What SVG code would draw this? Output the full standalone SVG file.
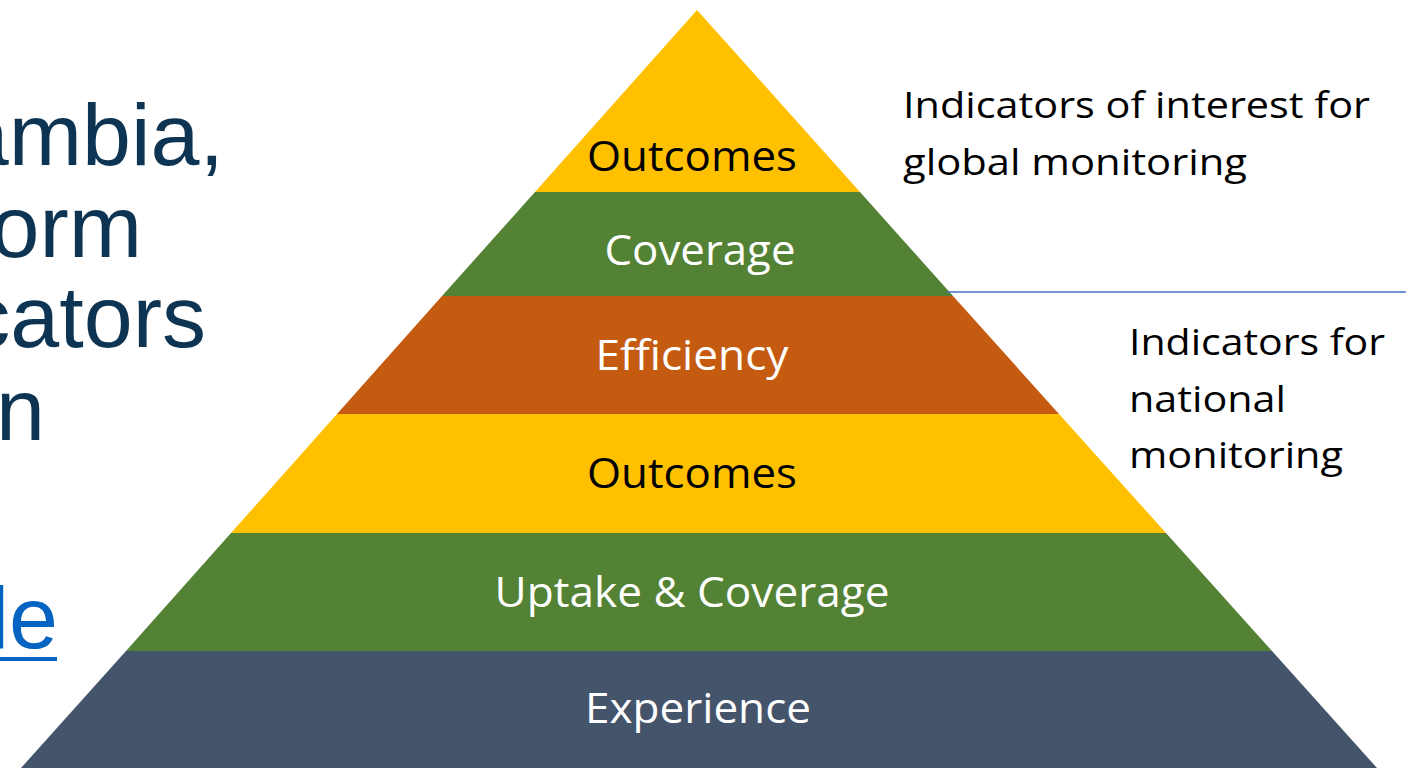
<svg xmlns="http://www.w3.org/2000/svg" width="1406" height="768" viewBox="0 0 1406 768">
<style>
.lbl{font-family:"Open Sans","Noto Sans",sans-serif;font-size:42px;text-anchor:middle;lengthAdjust:spacingAndGlyphs}
.dark{fill:#000}
.light{fill:#fff}
.side{font-family:"Open Sans","Noto Sans",sans-serif;font-size:36px;fill:#000}
.slide{font-family:"Liberation Sans",Arial,sans-serif;font-size:88px;fill:#0D3553;text-anchor:end}
</style>
<rect width="1406" height="768" fill="#fff"/>
<g id="slide-text">
<text class="slide" x="224" y="165">ambia,</text>
<text class="slide" x="142" y="257">orm</text>
<text class="slide" x="206" y="347">cators</text>
<text class="slide" x="45" y="440">n</text>
<text class="slide" x="58" y="648" style="fill:#0563C1">le</text>
<rect x="0" y="657" width="57" height="4" fill="#0563C1"/>
</g>
<g id="layer-outcomes-top">
<polygon points="697,10 860,192 535,192" fill="#FFC000"/>
<text class="lbl dark" x="692" y="171" textLength="210" lengthAdjust="spacingAndGlyphs">Outcomes</text>
</g>
<g id="layer-coverage">
<polygon points="535,192 860,192 953,296 442,296" fill="#548235"/>
<text class="lbl light" x="700" y="265" textLength="191" lengthAdjust="spacingAndGlyphs">Coverage</text>
</g>
<g id="layer-efficiency">
<polygon points="442,296 953,296 1059,414 337,414" fill="#C55A11"/>
<text class="lbl light" x="692" y="370" textLength="193" lengthAdjust="spacingAndGlyphs">Efficiency</text>
</g>
<g id="layer-outcomes">
<polygon points="337,414 1059,414 1166,533 231,533" fill="#FFC000"/>
<text class="lbl dark" x="692" y="488" textLength="210" lengthAdjust="spacingAndGlyphs">Outcomes</text>
</g>
<g id="layer-uptake">
<polygon points="231,533 1166,533 1272,651 126,651" fill="#548235"/>
<text class="lbl light" x="692" y="607" textLength="395" lengthAdjust="spacingAndGlyphs">Uptake &amp; Coverage</text>
</g>
<g id="layer-experience">
<polygon points="126,651 1272,651 1377,768 21,768" fill="#44546A"/>
<text class="lbl light" x="698" y="723" textLength="226" lengthAdjust="spacingAndGlyphs">Experience</text>
</g>
<g id="connectors">
<line x1="947" y1="292" x2="1406" y2="292" stroke="#4472C4" stroke-width="1.5"/>
</g>
<g id="global-note">
<text class="side" x="903" y="118" textLength="467" lengthAdjust="spacingAndGlyphs">Indicators of interest for</text>
<text class="side" x="903" y="175" textLength="344" lengthAdjust="spacingAndGlyphs">global monitoring</text>
</g>
<g id="national-note">
<text class="side" x="1129" y="355" textLength="256" lengthAdjust="spacingAndGlyphs">Indicators for</text>
<text class="side" x="1129" y="412" textLength="157" lengthAdjust="spacingAndGlyphs">national</text>
<text class="side" x="1129" y="468" textLength="214" lengthAdjust="spacingAndGlyphs">monitoring</text>
</g>
</svg>
